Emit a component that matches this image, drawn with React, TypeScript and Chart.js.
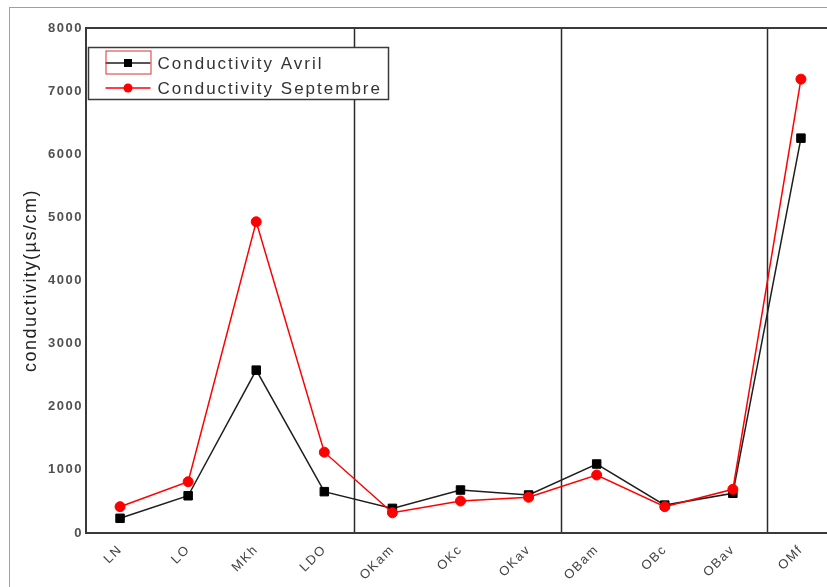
import React, { useEffect, useRef } from "react";
import { Chart, registerables } from "chart.js";

Chart.register(...registerables);

// Sampling sites along the river, grouped into sections
const sites = ["LN", "LO", "MKh", "LDO", "OKam", "OKc", "OKav", "OBam", "OBc", "OBav", "OMf"];
// Conductivity (µs/cm) measured in April
const avril = [233, 590, 2580, 655, 390, 681, 602, 1093, 442, 629, 6255];
// Conductivity (µs/cm) measured in September
const septembre = [417, 812, 4930, 1280, 320, 507, 566, 919, 417, 692, 7190];
// Y axis range and step
const yMin = 0;
const yMax = 8000;
const yStep = 1000;
// Section separators, in category index units
const sectionBreaks = [3.43, 6.48, 9.5];
const seriesLabels = ["Conductivity Avril", "Conductivity Septembre"];
const yTitle = "conductivity(µs/cm)";

const FONT = "'Liberation Sans', Arial, sans-serif";

const framePlugin = {
  id: "frameAndSections",
  beforeUpdate(chart: any) {
    chart.ctx.letterSpacing = "1.5px";
  },
  beforeDatasetsDraw(chart: any) {
    const { ctx, chartArea, scales } = chart;
    ctx.save();
    ctx.strokeStyle = "#2b2b2b";
    ctx.lineWidth = 1.5;
    for (const b of sectionBreaks) {
      const x = Math.round(scales.x.getPixelForValue(b)) + 0.5;
      ctx.beginPath();
      ctx.moveTo(x, chartArea.top);
      ctx.lineTo(x, chartArea.bottom);
      ctx.stroke();
    }
    ctx.strokeStyle = "#3a3a3a";
    ctx.lineWidth = 2;
    ctx.strokeRect(chartArea.left, chartArea.top, chartArea.right - chartArea.left, chartArea.bottom - chartArea.top);
    ctx.restore();
  },
  afterDraw(chart: any) {
    const { ctx, chartArea } = chart;
    const bx = chartArea.left + 2.5;
    const by = chartArea.top + 19.5;
    const bw = 300;
    const bh = 52;
    ctx.save();
    ctx.fillStyle = "#ffffff";
    ctx.fillRect(bx, by, bw, bh);
    ctx.strokeStyle = "#3a3a3a";
    ctx.lineWidth = 1.5;
    ctx.strokeRect(bx, by, bw, bh);

    const ds = chart.data.datasets;
    const rows = [by + 15.5, by + 40.5];
    const x0 = bx + 17;
    const x1 = bx + 62;
    const xm = (x0 + x1) / 2;
    ds.forEach((d: any, i: number) => {
      const y = rows[i];
      ctx.strokeStyle = d.borderColor;
      ctx.lineWidth = 1.5;
      ctx.beginPath();
      ctx.moveTo(x0, y);
      ctx.lineTo(x1, y);
      ctx.stroke();
      ctx.fillStyle = d.backgroundColor;
      if (d.pointStyle === "rect") {
        ctx.fillRect(xm - 4, y - 4, 8, 8);
      } else {
        ctx.beginPath();
        ctx.arc(xm, y, 4.5, 0, Math.PI * 2);
        ctx.fill();
      }
      ctx.fillStyle = "#333333";
      ctx.font = `17px ${FONT}`;
      ctx.letterSpacing = "2px";
      ctx.textBaseline = "middle";
      ctx.textAlign = "left";
      ctx.fillText(d.label, x1 + 7, y + 1);
    });
    // selection outline around the first legend sample
    ctx.strokeStyle = "#e03030";
    ctx.lineWidth = 1;
    ctx.strokeRect(x0 + 0.5, rows[0] - 12, x1 - x0, 23);
    ctx.restore();
  },
};

export default function App() {
  const ref = useRef<HTMLCanvasElement | null>(null);

  useEffect(() => {
    if (!ref.current) return;
    const chart = new Chart(ref.current, {
      type: "line",
      data: {
        labels: sites,
        datasets: [
          {
            label: seriesLabels[0],
            data: avril,
            borderColor: "#1e1e1e",
            backgroundColor: "#000000",
            borderWidth: 1.5,
            pointStyle: "rect",
            pointRadius: 6,
            pointBorderWidth: 1,
            pointBorderColor: "#000000",
            pointBackgroundColor: "#000000",
            order: 1,
          },
          {
            label: seriesLabels[1],
            data: septembre,
            borderColor: "#ff0000",
            backgroundColor: "#ff0000",
            borderWidth: 1.5,
            pointStyle: "circle",
            pointRadius: 5,
            pointBorderWidth: 1,
            pointBorderColor: "#ff0000",
            pointBackgroundColor: "#ff0000",
            order: 0,
          },
        ],
      },
      options: {
        responsive: false,
        animation: false,
        events: [],
        layout: { padding: { left: 0, top: 28, right: 15, bottom: 0 } },
        plugins: {
          legend: { display: false },
          tooltip: { enabled: false },
        },
        scales: {
          x: {
            type: "category",
            offset: true,
            grid: { display: false, drawTicks: false },
            border: { display: false },
            ticks: {
              autoSkip: false,
              minRotation: 45,
              maxRotation: 45,
              padding: 9,
              color: "#444444",
              font: { family: FONT, size: 13 },
            },
            afterFit: (s: any) => {
              s.height = 54;
            },
          },
          y: {
            min: yMin,
            max: yMax,
            grid: { display: false, drawTicks: false },
            border: { display: false },
            ticks: {
              stepSize: yStep,
              padding: 3,
              color: "#505050",
              font: { family: FONT, size: 13, weight: "bold" },
              callback: (v: any) => String(v),
            },
            title: {
              display: true,
              text: yTitle,
              color: "#222222",
              font: { family: FONT, size: 18 },
              padding: { top: 20, bottom: 0 },
            },
            afterFit: (s: any) => {
              s.width = 86;
            },
          },
        },
      },
      plugins: [framePlugin],
    });
    return () => chart.destroy();
  }, []);

  return (
    <div
      style={{
        position: "fixed",
        left: 0,
        top: 0,
        width: 827,
        height: 587,
        overflow: "hidden",
        background: "#ffffff",
      }}
    >
      <div
        style={{
          position: "absolute",
          left: 9,
          top: 7,
          width: 900,
          height: 700,
          borderLeft: "1.5px solid #a0a0a0",
          borderTop: "1.5px solid #a0a0a0",
        }}
      />
      <canvas
        ref={ref}
        width={850}
        height={587}
        style={{ position: "absolute", left: 0, top: 0, width: 850, height: 587 }}
      />
    </div>
  );
}
